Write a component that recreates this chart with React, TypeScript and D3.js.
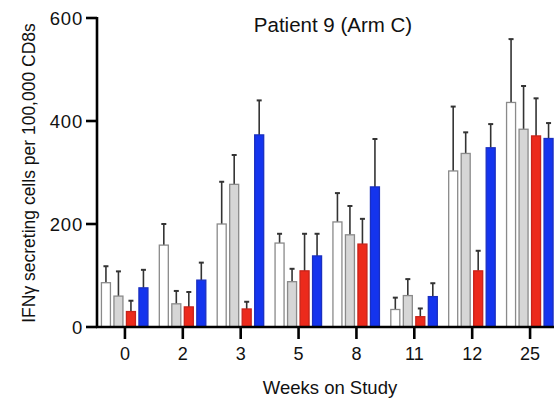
import React from "react";
import * as d3 from "d3";

// weeks on study (x categories)
const weeks = ["0", "2", "3", "5", "8", "11", "12", "25"];
const seriesKeys = ["s1", "s2", "s3", "s4"];

// mean values per series
const s1Values = [86, 159, 200, 163, 204, 34, 303, 436];
const s2Values = [60, 45, 277, 88, 179, 61, 337, 384];
const s3Values = [30, 39, 35, 109, 161, 20, 109, 371];
const s4Values = [76, 91, 373, 138, 272, 59, 348, 366];

// upper error (SD) per series
const s1Err = [32, 41, 82, 18, 56, 23, 125, 123];
const s2Err = [48, 25, 57, 25, 56, 32, 41, 84];
const s3Err = [21, 29, 14, 72, 49, 16, 39, 73];
const s4Err = [35, 34, 67, 43, 93, 26, 46, 30];

const yTicks = [0, 200, 400, 600];

const fills: Record<string, string> = { s1: "#ffffff", s2: "#d6d6d6", s3: "#ec2a1c", s4: "#1434ee" };
const strokes: Record<string, string> = { s1: "#8a8a8a", s2: "#8a8a8a", s3: "#c8231a", s4: "#1a2fc0" };

const W = 554;
const H = 400;
const font = "'Liberation Sans', Arial, Helvetica, sans-serif";

export default function App() {
  const values = [s1Values, s2Values, s3Values, s4Values];
  const errs = [s1Err, s2Err, s3Err, s4Err];

  const x0 = d3.scaleBand<string>().domain(weeks).range([96, 559]);
  const x1 = d3.scaleBand<string>().domain(seriesKeys).range([-23.5, 23]).paddingInner(0.28);
  const y = d3.scaleLinear().domain([0, 600]).range([327, 18]);

  const rows = weeks.flatMap((w, i) =>
    seriesKeys.map((k, j) => ({ week: w, key: k, v: values[j][i], e: errs[j][i] }))
  );

  const axisX = 97;
  const axisY = y(0);

  return (
    <svg width={W} height={H} style={{ position: "absolute", left: 0, top: 0, background: "#fff" }} fontFamily={font}>
      {/* error bars */}
      {rows.map((r, i) => {
        const cx = x0(r.week)! + x0.bandwidth() / 2 + x1(r.key)! + x1.bandwidth() / 2;
        return (
          <g key={"e" + i} stroke="#333" strokeWidth={1.6}>
            <line x1={cx} x2={cx} y1={y(r.v)} y2={y(r.v + r.e)} />
            <line x1={cx - 2.5} x2={cx + 2.5} y1={y(r.v + r.e)} y2={y(r.v + r.e)} strokeWidth={2} />
          </g>
        );
      })}
      {/* bars */}
      {rows.map((r, i) => {
        const bx = x0(r.week)! + x0.bandwidth() / 2 + x1(r.key)!;
        return (
          <rect
            key={"b" + i}
            x={bx}
            y={y(r.v)}
            width={x1.bandwidth()}
            height={axisY - y(r.v)}
            fill={fills[r.key]}
            stroke={strokes[r.key]}
            strokeWidth={1.3}
          />
        );
      })}
      {/* y axis */}
      <line x1={axisX} x2={axisX} y1={y(600) - 1} y2={axisY + 1} stroke="#000" strokeWidth={2.6} />
      {yTicks.map((t) => (
        <g key={"yt" + t}>
          <line x1={axisX - 11} x2={axisX} y1={y(t)} y2={y(t)} stroke="#000" strokeWidth={2.6} />
          <text x={axisX - 14} y={y(t)} dy="0.36em" textAnchor="end" fontSize={18.5} letterSpacing={0.8} fill="#111">
            {t}
          </text>
        </g>
      ))}
      {/* x axis */}
      <line x1={axisX - 1} x2={W} y1={axisY} y2={axisY} stroke="#000" strokeWidth={2.6} />
      {weeks.map((w) => {
        const cx = x0(w)! + x0.bandwidth() / 2;
        return (
          <g key={"xt" + w}>
            <line x1={cx} x2={cx} y1={axisY} y2={axisY + 12} stroke="#000" strokeWidth={2.6} />
            <text x={cx} y={359.5} textAnchor="middle" fontSize={18} fill="#111">
              {w}
            </text>
          </g>
        );
      })}
      {/* titles */}
      <text x={333} y={32} textAnchor="middle" fontSize={20.5} fill="#111">
        Patient 9 (Arm C)
      </text>
      <text x={330} y={394} textAnchor="middle" fontSize={18.5} fill="#111">
        Weeks on Study
      </text>
      <text
        transform={`translate(35,${(18 + 328) / 2}) rotate(-90)`}
        textAnchor="middle"
        fontSize={17.5}
        fill="#111"
      >
        IFNγ secreting cells per 100,000 CD8s
      </text>
    </svg>
  );
}
